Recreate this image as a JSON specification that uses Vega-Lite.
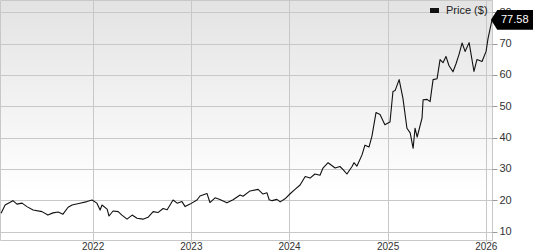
{
  "$schema": "https://vega.github.io/schema/vega-lite/v6.json",
  "width": 492,
  "height": 240,
  "autosize": "none",
  "padding": {"left": 0, "top": 0, "right": 41, "bottom": 10},
  "background": "#ffffff",
  "config": {
    "view": {
      "stroke": "#c8c8c8",
      "strokeWidth": 1,
      "fill": {"gradient": "linear", "x1": 0, "y1": 0, "x2": 0, "y2": 1,
        "stops": [{"offset": 0, "color": "#e3e3e3"}, {"offset": 0.8, "color": "#ffffff"}]}
    },
    "axis": {"labelOverlap": false},
    "font": "Liberation Sans"
  },
  "encoding": {
    "x": {
      "field": "date", "type": "temporal",
      "scale": {"domain": ["2021-01-22", "2026-01-24"], "nice": false},
      "axis": {
        "title": null, "format": "%Y", "tickCount": {"interval": "year", "step": 1},
        "grid": true, "gridColor": "#c8c8c8", "gridWidth": 1,
        "domain": false, "ticks": true, "tickSize": 2, "tickColor": "#c8c8c8",
        "labelFont": "Liberation Sans", "labelFontSize": 10, "labelColor": "#333333",
        "labelPadding": -1, "labelFlush": false, "labelOverlap": false
      }
    },
    "y": {
      "field": "price", "type": "quantitative",
      "scale": {"domain": [7.35, 83.9], "nice": false, "zero": false},
      "axis": {
        "title": null, "orient": "right", "values": [10, 20, 30, 40, 50, 60, 70, 80],
        "grid": true, "gridColor": "#c8c8c8", "gridWidth": 1,
        "domain": false, "ticks": true, "tickSize": 5, "tickColor": "#999999",
        "labelFont": "Liberation Sans", "labelFontSize": 11, "labelColor": "#333333",
        "labelPadding": 2, "labelOverlap": false, "labelFlush": false, "labelBound": false
      }
    }
  },
  "layer": [
    {
      "data": {"values": [
        {"date": "2021-01-26", "price": 15.9},
        {"date": "2021-02-10", "price": 18.5},
        {"date": "2021-03-11", "price": 19.9},
        {"date": "2021-03-26", "price": 18.8},
        {"date": "2021-04-14", "price": 19.1},
        {"date": "2021-05-02", "price": 18.0},
        {"date": "2021-05-25", "price": 16.9},
        {"date": "2021-06-27", "price": 16.4},
        {"date": "2021-07-19", "price": 15.3},
        {"date": "2021-08-07", "price": 16.0},
        {"date": "2021-08-26", "price": 16.3},
        {"date": "2021-09-13", "price": 15.6},
        {"date": "2021-10-02", "price": 17.8},
        {"date": "2021-10-17", "price": 18.5},
        {"date": "2021-11-15", "price": 19.1},
        {"date": "2021-12-11", "price": 19.6},
        {"date": "2021-12-30", "price": 20.1},
        {"date": "2022-01-17", "price": 19.1},
        {"date": "2022-01-29", "price": 16.9},
        {"date": "2022-02-05", "price": 18.5},
        {"date": "2022-02-24", "price": 17.2},
        {"date": "2022-03-03", "price": 15.0},
        {"date": "2022-03-18", "price": 16.6},
        {"date": "2022-04-06", "price": 16.4},
        {"date": "2022-04-20", "price": 15.3},
        {"date": "2022-05-09", "price": 14.0},
        {"date": "2022-05-28", "price": 15.3},
        {"date": "2022-06-15", "price": 14.3},
        {"date": "2022-07-07", "price": 14.0},
        {"date": "2022-07-26", "price": 14.6},
        {"date": "2022-08-14", "price": 16.4},
        {"date": "2022-09-01", "price": 16.1},
        {"date": "2022-09-20", "price": 17.4},
        {"date": "2022-10-05", "price": 17.0},
        {"date": "2022-10-27", "price": 20.1},
        {"date": "2022-11-11", "price": 19.1},
        {"date": "2022-11-29", "price": 19.6},
        {"date": "2022-12-11", "price": 18.0},
        {"date": "2022-12-29", "price": 18.8},
        {"date": "2023-01-24", "price": 20.1},
        {"date": "2023-02-04", "price": 21.4},
        {"date": "2023-03-02", "price": 22.2},
        {"date": "2023-03-13", "price": 19.3},
        {"date": "2023-04-01", "price": 20.8},
        {"date": "2023-04-19", "price": 20.3},
        {"date": "2023-05-15", "price": 19.2},
        {"date": "2023-06-07", "price": 20.2},
        {"date": "2023-07-03", "price": 21.7},
        {"date": "2023-07-14", "price": 21.3},
        {"date": "2023-08-09", "price": 23.0},
        {"date": "2023-09-08", "price": 23.5},
        {"date": "2023-09-26", "price": 22.0},
        {"date": "2023-10-11", "price": 22.4},
        {"date": "2023-10-19", "price": 20.2},
        {"date": "2023-10-30", "price": 19.9},
        {"date": "2023-11-17", "price": 20.3},
        {"date": "2023-11-29", "price": 19.5},
        {"date": "2023-12-17", "price": 20.5},
        {"date": "2024-01-05", "price": 22.1},
        {"date": "2024-01-23", "price": 23.5},
        {"date": "2024-02-11", "price": 24.9},
        {"date": "2024-03-01", "price": 27.6},
        {"date": "2024-03-19", "price": 27.1},
        {"date": "2024-04-06", "price": 28.4},
        {"date": "2024-04-25", "price": 28.0},
        {"date": "2024-05-06", "price": 30.3},
        {"date": "2024-05-25", "price": 32.0},
        {"date": "2024-06-20", "price": 30.3},
        {"date": "2024-07-08", "price": 30.8},
        {"date": "2024-07-19", "price": 29.9},
        {"date": "2024-08-03", "price": 28.4},
        {"date": "2024-08-22", "price": 30.8},
        {"date": "2024-08-29", "price": 32.0},
        {"date": "2024-09-09", "price": 30.9},
        {"date": "2024-09-28", "price": 34.5},
        {"date": "2024-10-09", "price": 37.6},
        {"date": "2024-10-24", "price": 37.0},
        {"date": "2024-11-04", "price": 40.5},
        {"date": "2024-11-19", "price": 48.0},
        {"date": "2024-12-04", "price": 47.4},
        {"date": "2024-12-22", "price": 44.1},
        {"date": "2025-01-10", "price": 45.0},
        {"date": "2025-01-21", "price": 54.7},
        {"date": "2025-01-29", "price": 55.0},
        {"date": "2025-02-13", "price": 58.5},
        {"date": "2025-02-27", "price": 52.6},
        {"date": "2025-03-14", "price": 43.0},
        {"date": "2025-03-26", "price": 41.5},
        {"date": "2025-04-06", "price": 36.6},
        {"date": "2025-04-13", "price": 43.0},
        {"date": "2025-04-21", "price": 40.2},
        {"date": "2025-05-09", "price": 46.2},
        {"date": "2025-05-13", "price": 52.1},
        {"date": "2025-05-28", "price": 52.2},
        {"date": "2025-06-08", "price": 51.5},
        {"date": "2025-06-19", "price": 58.5},
        {"date": "2025-07-04", "price": 58.8},
        {"date": "2025-07-15", "price": 64.9},
        {"date": "2025-07-26", "price": 63.9},
        {"date": "2025-08-06", "price": 65.9},
        {"date": "2025-08-17", "price": 63.0},
        {"date": "2025-09-01", "price": 61.0},
        {"date": "2025-09-12", "price": 63.5},
        {"date": "2025-09-23", "price": 66.4},
        {"date": "2025-10-05", "price": 70.2},
        {"date": "2025-10-16", "price": 67.5},
        {"date": "2025-10-31", "price": 70.3},
        {"date": "2025-11-18", "price": 61.1},
        {"date": "2025-11-29", "price": 64.9},
        {"date": "2025-12-18", "price": 64.3},
        {"date": "2026-01-02", "price": 67.5},
        {"date": "2026-01-09", "price": 71.5},
        {"date": "2026-01-24", "price": 77.58}
      ]},
      "mark": {"type": "line", "strokeWidth": 1.1, "strokeJoin": "round"},
      "encoding": {
        "color": {
          "datum": "Price ($)", "type": "nominal",
          "scale": {"range": ["#111111"]},
          "legend": {
            "title": null, "orient": "none", "legendX": 429, "legendY": 5,
            "padding": 0, "symbolType": "M-1,-0.55H1V0.55H-1Z", "symbolSize": 81,
            "symbolStrokeWidth": 0, "symbolFillColor": "#111111",
            "labelFont": "Liberation Sans", "labelFontSize": 11, "labelColor": "#222222",
            "labelOffset": 6
          }
        }
      }
    },
    {
      "data": {"values": [{"date": "2026-01-24", "price": 77.58, "label": "77.58"}]},
      "mark": {"type": "point", "shape": "M-0.05,0L0.25,-0.47L2.2,-0.47L2.2,0.47L0.25,0.47Z", "filled": true, "color": "#000000", "size": 1764, "opacity": 1, "strokeWidth": 0}
    },
    {
      "data": {"values": [{"date": "2026-01-24", "price": 77.58, "label": "77.58"}]},
      "mark": {"type": "text", "align": "left", "baseline": "middle", "dx": 9, "color": "#ffffff", "font": "Liberation Sans", "fontSize": 11},
      "encoding": {
        "text": {"field": "label"}
      }
    }
  ]
}
